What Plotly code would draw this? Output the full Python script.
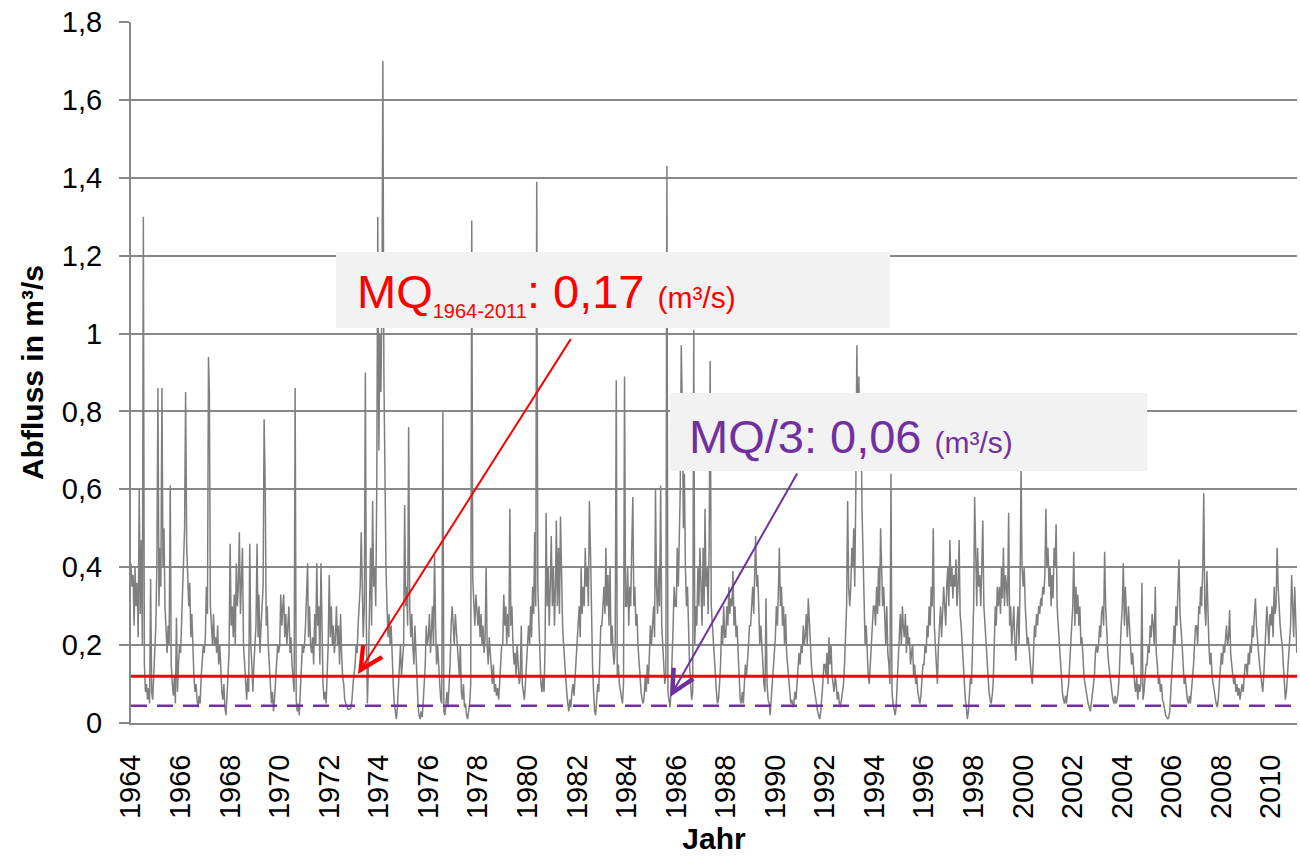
import plotly.graph_objects as go
import pandas as pd

# ---- data: semi-monthly readings (1st and 16th of each month) of Abfluss in m3/s ----
q1964 = [0.41, 0.35, 0.38, 0.25, 0.40, 0.30, 0.36, 0.22, 0.60, 0.28, 0.47, 0.20, 1.30, 0.15, 0.08, 0.10, 0.06, 0.09, 0.05, 0.37, 0.08, 0.06, 0.12, 0.18]
q1965 = [0.25, 0.40, 0.86, 0.30, 0.45, 0.35, 0.86, 0.40, 0.50, 0.30, 0.22, 0.18, 0.25, 0.20, 0.61, 0.15, 0.10, 0.07, 0.12, 0.05, 0.27, 0.08, 0.15, 0.20]
q1966 = [0.18, 0.25, 0.35, 0.42, 0.50, 0.85, 0.45, 0.38, 0.30, 0.36, 0.22, 0.28, 0.18, 0.12, 0.08, 0.10, 0.06, 0.04, 0.07, 0.05, 0.12, 0.15, 0.20, 0.18]
q1967 = [0.22, 0.35, 0.28, 0.94, 0.85, 0.30, 0.25, 0.20, 0.28, 0.20, 0.22, 0.18, 0.25, 0.15, 0.20, 0.12, 0.08, 0.06, 0.10, 0.04, 0.02, 0.07, 0.12, 0.18]
q1968 = [0.46, 0.25, 0.30, 0.22, 0.33, 0.20, 0.41, 0.30, 0.35, 0.49, 0.28, 0.35, 0.45, 0.20, 0.15, 0.10, 0.06, 0.12, 0.08, 0.46, 0.20, 0.15, 0.08, 0.15]
q1969 = [0.20, 0.25, 0.46, 0.22, 0.33, 0.18, 0.25, 0.30, 0.35, 0.78, 0.61, 0.25, 0.30, 0.20, 0.15, 0.10, 0.05, 0.08, 0.03, 0.06, 0.10, 0.15, 0.20, 0.18]
q1970 = [0.20, 0.33, 0.25, 0.30, 0.33, 0.22, 0.28, 0.20, 0.25, 0.30, 0.18, 0.22, 0.15, 0.12, 0.08, 0.86, 0.06, 0.03, 0.05, 0.02, 0.10, 0.15, 0.20, 0.18]
q1971 = [0.20, 0.25, 0.35, 0.41, 0.22, 0.30, 0.20, 0.18, 0.22, 0.15, 0.28, 0.20, 0.41, 0.25, 0.30, 0.15, 0.41, 0.20, 0.10, 0.06, 0.08, 0.05, 0.12, 0.20]
q1972 = [0.38, 0.22, 0.30, 0.20, 0.25, 0.18, 0.22, 0.30, 0.20, 0.25, 0.15, 0.28, 0.18, 0.12, 0.10, 0.06, 0.05, 0.04, 0.035, 0.035, 0.035, 0.04, 0.06, 0.10]
q1973 = [0.12, 0.15, 0.20, 0.18, 0.25, 0.30, 0.35, 0.49, 0.28, 0.22, 0.30, 0.90, 0.25, 0.05, 0.15, 0.30, 0.45, 0.25, 0.57, 0.35, 0.40, 0.30, 0.60, 1.30]
q1974 = [0.70, 1.00, 0.85, 1.10, 1.70, 0.90, 0.60, 0.40, 0.30, 0.22, 0.28, 0.20, 0.25, 0.15, 0.10, 0.05, 0.02, 0.01, 0.04, 0.10, 0.15, 0.20, 0.12, 0.18]
q1975 = [0.20, 0.56, 0.30, 0.35, 0.25, 0.76, 0.30, 0.22, 0.28, 0.20, 0.15, 0.25, 0.18, 0.10, 0.05, 0.02, 0.01, 0.03, 0.015, 0.05, 0.10, 0.15, 0.25, 0.20]
q1976 = [0.22, 0.28, 0.18, 0.25, 0.30, 0.20, 0.43, 0.25, 0.15, 0.20, 0.12, 0.10, 0.06, 0.05, 0.80, 0.03, 0.02, 0.05, 0.08, 0.04, 0.10, 0.15, 0.25, 0.30]
q1977 = [0.25, 0.20, 0.28, 0.24, 0.18, 0.15, 0.12, 0.20, 0.08, 0.06, 0.10, 0.04, 0.05, 0.02, 0.01, 0.03, 0.05, 0.10, 1.29, 0.37, 0.30, 0.25, 0.33, 0.28]
q1978 = [0.25, 0.30, 0.22, 0.28, 0.20, 0.25, 0.18, 0.22, 0.40, 0.20, 0.15, 0.22, 0.18, 0.12, 0.10, 0.15, 0.08, 0.10, 0.07, 0.09, 0.06, 0.10, 0.15, 0.20]
q1979 = [0.20, 0.33, 0.25, 0.30, 0.20, 0.28, 0.22, 0.55, 0.25, 0.30, 0.20, 0.15, 0.18, 0.12, 0.20, 0.15, 0.10, 0.12, 0.25, 0.10, 0.08, 0.06, 0.10, 0.15]
q1980 = [0.18, 0.25, 0.20, 0.30, 0.22, 0.35, 0.28, 0.49, 0.30, 1.39, 0.35, 0.25, 0.15, 0.10, 0.08, 0.12, 0.08, 0.20, 0.54, 0.30, 0.40, 0.25, 0.35, 0.48]
q1981 = [0.30, 0.40, 0.25, 0.35, 0.52, 0.30, 0.45, 0.28, 0.53, 0.35, 0.25, 0.20, 0.15, 0.10, 0.08, 0.05, 0.03, 0.06, 0.04, 0.08, 0.10, 0.07, 0.12, 0.15]
q1982 = [0.20, 0.25, 0.30, 0.22, 0.40, 0.28, 0.35, 0.30, 0.45, 0.35, 0.40, 0.30, 0.57, 0.45, 0.25, 0.15, 0.08, 0.03, 0.02, 0.05, 0.10, 0.08, 0.15, 0.25]
q1983 = [0.25, 0.30, 0.35, 0.28, 0.45, 0.30, 0.38, 0.25, 0.40, 0.20, 0.25, 0.18, 0.15, 0.20, 0.88, 0.12, 0.15, 0.10, 0.08, 0.06, 0.05, 0.10, 0.89, 0.30]
q1984 = [0.30, 0.40, 0.25, 0.35, 0.30, 0.45, 0.58, 0.30, 0.35, 0.25, 0.28, 0.20, 0.15, 0.10, 0.08, 0.06, 0.05, 0.07, 0.12, 0.08, 0.15, 0.10, 0.20, 0.25]
q1985 = [0.20, 0.25, 0.30, 0.22, 0.60, 0.35, 0.28, 0.40, 0.30, 0.61, 0.25, 0.20, 0.15, 0.10, 0.12, 1.43, 0.08, 0.06, 0.04, 0.08, 0.15, 0.25, 0.35, 0.30]
q1986 = [0.30, 0.45, 0.35, 0.55, 0.60, 0.97, 0.80, 0.50, 0.64, 0.40, 0.30, 0.35, 0.20, 0.15, 0.10, 0.06, 0.08, 1.01, 0.20, 0.30, 0.25, 0.40, 0.30, 0.45]
q1987 = [0.35, 0.25, 0.45, 0.30, 0.55, 0.35, 0.40, 0.28, 0.45, 0.93, 0.30, 0.25, 0.20, 0.15, 0.10, 0.08, 0.05, 0.06, 0.10, 0.15, 0.25, 0.20, 0.30, 0.22]
q1988 = [0.22, 0.30, 0.25, 0.35, 0.28, 0.32, 0.30, 0.39, 0.25, 0.30, 0.22, 0.25, 0.18, 0.10, 0.06, 0.05, 0.08, 0.05, 0.10, 0.15, 0.12, 0.18, 0.20, 0.25]
q1989 = [0.25, 0.30, 0.35, 0.28, 0.40, 0.48, 0.35, 0.38, 0.30, 0.20, 0.25, 0.18, 0.15, 0.10, 0.08, 0.32, 0.10, 0.06, 0.05, 0.02, 0.06, 0.10, 0.15, 0.20]
q1990 = [0.22, 0.30, 0.25, 0.35, 0.45, 0.30, 0.35, 0.25, 0.30, 0.20, 0.28, 0.18, 0.15, 0.10, 0.08, 0.05, 0.06, 0.04, 0.05, 0.08, 0.06, 0.10, 0.15, 0.18]
q1991 = [0.15, 0.20, 0.18, 0.25, 0.20, 0.22, 0.28, 0.20, 0.32, 0.25, 0.18, 0.15, 0.12, 0.10, 0.08, 0.06, 0.04, 0.03, 0.02, 0.01, 0.03, 0.06, 0.10, 0.15]
q1992 = [0.15, 0.12, 0.18, 0.10, 0.22, 0.15, 0.20, 0.12, 0.10, 0.08, 0.12, 0.10, 0.06, 0.08, 0.05, 0.04, 0.06, 0.08, 0.10, 0.15, 0.25, 0.30, 0.57, 0.35]
q1993 = [0.30, 0.35, 0.45, 0.40, 0.50, 0.35, 0.60, 0.97, 0.70, 0.89, 0.65, 0.80, 0.55, 0.40, 0.30, 0.20, 0.25, 0.15, 0.12, 0.10, 0.15, 0.20, 0.25, 0.30]
q1994 = [0.30, 0.25, 0.35, 0.28, 0.40, 0.30, 0.50, 0.39, 0.30, 0.35, 0.25, 0.20, 0.30, 0.18, 0.15, 0.10, 0.64, 0.08, 0.05, 0.03, 0.02, 0.04, 0.10, 0.20]
q1995 = [0.22, 0.28, 0.20, 0.30, 0.25, 0.22, 0.28, 0.18, 0.25, 0.20, 0.22, 0.15, 0.18, 0.20, 0.12, 0.15, 0.10, 0.12, 0.08, 0.06, 0.05, 0.07, 0.10, 0.15]
q1996 = [0.15, 0.20, 0.18, 0.25, 0.22, 0.30, 0.25, 0.35, 0.30, 0.50, 0.25, 0.20, 0.15, 0.10, 0.20, 0.25, 0.30, 0.22, 0.28, 0.35, 0.30, 0.25, 0.35, 0.40]
q1997 = [0.30, 0.47, 0.35, 0.40, 0.32, 0.38, 0.35, 0.42, 0.30, 0.35, 0.47, 0.28, 0.25, 0.20, 0.15, 0.10, 0.06, 0.04, 0.01, 0.03, 0.08, 0.12, 0.10, 0.20]
q1998 = [0.30, 0.58, 0.40, 0.30, 0.45, 0.35, 0.38, 0.30, 0.40, 0.52, 0.30, 0.25, 0.20, 0.15, 0.10, 0.08, 0.06, 0.05, 0.07, 0.10, 0.20, 0.30, 0.25, 0.35]
q1999 = [0.30, 0.35, 0.28, 0.40, 0.32, 0.45, 0.30, 0.38, 0.35, 0.30, 0.54, 0.25, 0.30, 0.20, 0.25, 0.30, 0.20, 0.16, 0.25, 0.30, 0.20, 0.35, 0.65, 0.40]
q2000 = [0.35, 0.40, 0.30, 0.25, 0.20, 0.22, 0.18, 0.15, 0.12, 0.10, 0.20, 0.25, 0.22, 0.28, 0.25, 0.30, 0.28, 0.32, 0.30, 0.35, 0.33, 0.38, 0.55, 0.40]
q2001 = [0.45, 0.35, 0.40, 0.30, 0.38, 0.32, 0.45, 0.40, 0.51, 0.30, 0.25, 0.20, 0.15, 0.10, 0.08, 0.06, 0.05, 0.07, 0.05, 0.08, 0.10, 0.15, 0.20, 0.25]
q2002 = [0.30, 0.44, 0.25, 0.35, 0.28, 0.33, 0.25, 0.30, 0.20, 0.22, 0.15, 0.12, 0.10, 0.08, 0.06, 0.05, 0.04, 0.03, 0.05, 0.08, 0.10, 0.12, 0.18, 0.20]
q2003 = [0.18, 0.20, 0.25, 0.22, 0.28, 0.30, 0.25, 0.44, 0.30, 0.22, 0.18, 0.15, 0.12, 0.10, 0.08, 0.06, 0.05, 0.07, 0.05, 0.06, 0.08, 0.12, 0.20, 0.25]
q2004 = [0.30, 0.41, 0.25, 0.35, 0.28, 0.22, 0.30, 0.25, 0.20, 0.15, 0.18, 0.12, 0.10, 0.08, 0.12, 0.06, 0.10, 0.08, 0.10, 0.36, 0.06, 0.08, 0.12, 0.15]
q2005 = [0.15, 0.20, 0.18, 0.25, 0.22, 0.28, 0.25, 0.20, 0.35, 0.18, 0.15, 0.10, 0.12, 0.08, 0.10, 0.06, 0.05, 0.03, 0.02, 0.015, 0.01, 0.015, 0.03, 0.08]
q2006 = [0.12, 0.18, 0.25, 0.20, 0.30, 0.25, 0.35, 0.42, 0.28, 0.25, 0.20, 0.15, 0.10, 0.12, 0.08, 0.06, 0.05, 0.07, 0.05, 0.08, 0.12, 0.15, 0.20, 0.25]
q2007 = [0.25, 0.20, 0.30, 0.28, 0.35, 0.30, 0.40, 0.59, 0.30, 0.25, 0.39, 0.28, 0.20, 0.15, 0.18, 0.12, 0.10, 0.08, 0.06, 0.05, 0.04, 0.06, 0.10, 0.15]
q2008 = [0.18, 0.15, 0.20, 0.18, 0.22, 0.25, 0.20, 0.22, 0.29, 0.18, 0.15, 0.12, 0.10, 0.12, 0.08, 0.10, 0.07, 0.09, 0.06, 0.08, 0.10, 0.08, 0.12, 0.15]
q2009 = [0.15, 0.12, 0.18, 0.15, 0.20, 0.18, 0.25, 0.22, 0.28, 0.32, 0.25, 0.20, 0.18, 0.15, 0.12, 0.10, 0.08, 0.12, 0.18, 0.22, 0.30, 0.25, 0.20, 0.28]
q2010 = [0.25, 0.30, 0.22, 0.35, 0.28, 0.30, 0.45, 0.35, 0.28, 0.25, 0.22, 0.20, 0.15, 0.10, 0.06, 0.08, 0.12, 0.15, 0.20, 0.25, 0.38, 0.30, 0.22, 0.35]
q2011 = [0.22, 0.18]

years = list(range(1964, 2012))
yearly = [q1964, q1965, q1966, q1967, q1968, q1969, q1970, q1971, q1972, q1973,
          q1974, q1975, q1976, q1977, q1978, q1979, q1980, q1981, q1982, q1983,
          q1984, q1985, q1986, q1987, q1988, q1989, q1990, q1991, q1992, q1993,
          q1994, q1995, q1996, q1997, q1998, q1999, q2000, q2001, q2002, q2003,
          q2004, q2005, q2006, q2007, q2008, q2009, q2010, q2011]

mq_level = 0.12       # drawn level of the red line
mq3_level = 0.044     # drawn level of the dashed purple line
mq_label = "0,17"
mq3_label = "0,06"
x_start = "1964-01-01"
x_end = "2011-01-19"

# ---- build the time series ----
dates, values = [], []
for y, vals in zip(years, yearly):
    for i, v in enumerate(vals):
        dates.append(pd.Timestamp(year=y, month=i // 2 + 1, day=1 if i % 2 == 0 else 16))
        values.append(v)

FONT = "Liberation Sans, Arial, sans-serif"
GRID = "#888888"
RED = "#ff0000"
PURPLE = "#7030a0"

fig = go.Figure()
fig.add_trace(go.Scatter(x=dates, y=values, mode="lines",
                         line=dict(color="#7f7f7f", width=1.5), showlegend=False))
fig.add_trace(go.Scatter(x=[x_start, x_end], y=[mq_level, mq_level], mode="lines",
                         line=dict(color=RED, width=3), showlegend=False))
fig.add_trace(go.Scatter(x=[x_start, x_end], y=[mq3_level, mq3_level], mode="lines",
                         line=dict(color=PURPLE, width=2.5, dash="16px,10px"), showlegend=False))

# screen pixel -> paper fraction of the plot area
def px_x(p):
    return (p - 131) / 1166

def px_y(p):
    return (723 - p) / 701

shapes = [
    dict(type="rect", xref="paper", yref="paper", layer="above",
         x0=px_x(336), x1=px_x(890), y0=px_y(328), y1=px_y(252),
         fillcolor="#f2f2f2", line=dict(width=0)),
    dict(type="rect", xref="paper", yref="paper", layer="above",
         x0=px_x(670), x1=px_x(1147), y0=px_y(471), y1=px_y(393),
         fillcolor="#f2f2f2", line=dict(width=0)),
]

annotations = [
    dict(xref="paper", yref="paper", x=px_x(355), y=px_y(293), xanchor="left", yanchor="middle",
         showarrow=False, font=dict(family=FONT, size=47, color=RED),
         text="MQ<sub><span style='font-size:20px'>1964-2011</span></sub>: " + mq_label +
              " <span style='font-size:30px'>(m³/s)</span>"),
    dict(xref="paper", yref="paper", x=px_x(687), y=px_y(436), xanchor="left", yanchor="middle",
         showarrow=False, font=dict(family=FONT, size=47, color=PURPLE),
         text="MQ/3: " + mq3_label + " <span style='font-size:30px'>(m³/s)</span>"),
    dict(xref="paper", yref="paper", x=px_x(358), y=px_y(674), text="", showarrow=True,
         axref="pixel", ayref="pixel", ax=213.7, ay=-336.4,
         arrowhead=5, arrowsize=2.2, arrowwidth=2, arrowcolor=RED, standoff=0),
    dict(xref="paper", yref="paper", x=px_x(670), y=px_y(697), text="", showarrow=True,
         axref="pixel", ayref="pixel", ax=128, ay=-225,
         arrowhead=5, arrowsize=2.2, arrowwidth=2, arrowcolor=PURPLE, standoff=0),
]

fig.update_layout(
    width=1300, height=858,
    margin=dict(l=131, r=3, t=22, b=135),
    paper_bgcolor="white", plot_bgcolor="white",
    separators=", ",
    font=dict(family=FONT, size=29, color="black"),
    shapes=shapes, annotations=annotations,
    xaxis=dict(type="date", range=[x_start, x_end], tick0="1964-01-01", dtick="M24",
               tickformat="%Y", tickangle=-90, showgrid=False, showline=True,
               linecolor=GRID, linewidth=2, ticks="", ticklabelstandoff=18,
               automargin=False,
               tickfont=dict(family=FONT, size=29, color="black"),
               title=dict(text="<b>Jahr</b>", font=dict(family=FONT, size=30, color="black"),
                          standoff=10)),
    yaxis=dict(range=[0, 1.8], tickvals=[0, 0.2, 0.4, 0.6, 0.8, 1.0, 1.2, 1.4, 1.6, 1.8],
               showgrid=True, gridcolor=GRID, gridwidth=1.5,
               showline=True, linecolor=GRID, linewidth=2, zeroline=False,
               ticks="outside", ticklen=10, tickcolor=GRID, tickwidth=1.5,
               ticklabelstandoff=11, automargin=False,
               tickfont=dict(family=FONT, size=29, color="black"),
               title=dict(text="<b>Abfluss in m³/s</b>", font=dict(family=FONT, size=30, color="black"),
                          standoff=9)),
)

# remove the default page margin so the 1300x858 figure fills the window exactly
fig.write_html("out.html", config={"displayModeBar": False},
               post_script="document.body.style.margin='0';document.body.style.overflow='hidden';")
